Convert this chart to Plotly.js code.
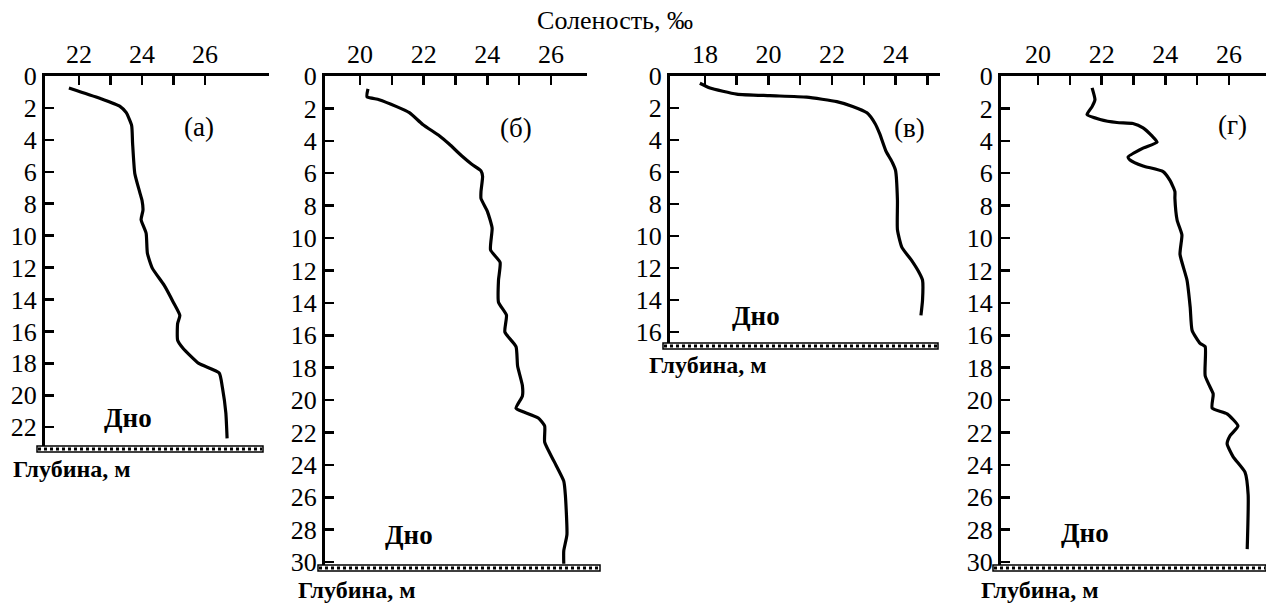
<!DOCTYPE html>
<html>
<head>
<meta charset="utf-8">
<script src="https://cdn.plot.ly/plotly-3.0.1.min.js"></script>
<style>
  html, body { margin: 0; padding: 0; background: #fff; }
  #chart { width: 1266px; height: 607px; }
</style>
</head>
<body>
<div id="chart"></div>
<script>
// ---- Data (salinity, ‰ ; depth, m) ----
const salA = [21.68, 22.66, 23.3, 23.5, 23.67, 23.7, 23.77, 23.93, 24.0, 24.03, 23.97, 24.13, 24.17, 24.33, 24.7, 25.0, 25.2, 25.13, 25.13, 25.3, 25.8, 26.45, 26.55, 26.66, 26.7];
const depthA = [0.75, 1.4, 1.9, 2.3, 3.1, 4.2, 6.1, 7.3, 7.8, 8.4, 9.0, 9.85, 11.1, 12.05, 13.1, 14.2, 15.0, 15.5, 16.55, 17.05, 18.0, 18.6, 19.5, 21.1, 22.7];

const salB = [20.25, 20.22, 20.6, 21.15, 21.55, 21.97, 22.5, 22.8, 23.2, 23.5, 23.8, 23.85, 23.8, 23.8, 24.0, 24.15, 24.1, 24.4, 24.35, 24.35, 24.6, 24.55, 24.9, 24.95, 25.1, 25.1, 24.9, 25.1, 25.6, 25.8, 25.8, 26.1, 26.4, 26.45, 26.5, 26.4, 26.4];
const depthB = [0.8, 1.28, 1.46, 1.89, 2.26, 2.99, 3.7, 4.2, 4.94, 5.43, 5.85, 6.2, 7.13, 7.56, 8.35, 9.39, 10.73, 11.5, 12.6, 13.96, 14.76, 15.8, 16.7, 17.9, 19.1, 19.75, 20.5, 20.7, 21.1, 21.6, 22.6, 23.8, 25.0, 25.85, 28.3, 29.3, 30.1];

const salV = [17.84, 18.16, 19.0, 20.04, 21.2, 22.15, 22.65, 23.1, 23.35, 23.5, 23.7, 23.9, 24.0, 24.06, 24.06, 24.2, 24.5, 24.75, 24.85, 24.85, 24.8];
const depthV = [0.45, 0.75, 1.13, 1.23, 1.32, 1.6, 1.9, 2.3, 2.95, 3.6, 4.7, 5.4, 5.9, 7.75, 9.6, 10.7, 11.5, 12.3, 12.75, 14.0, 14.95];

const salG = [21.70, 21.79, 21.70, 21.54, 21.95, 22.48, 22.98, 23.3, 23.58, 23.74, 23.30, 22.83, 22.89, 23.30, 23.93, 24.15, 24.3, 24.3, 24.37, 24.52, 24.46, 24.68, 24.78, 24.84, 25.09, 25.25, 25.25, 25.5, 25.5, 25.47, 25.94, 26.28, 26.03, 25.94, 26.13, 26.5, 26.6, 26.57];
const depthG = [0.73, 1.46, 1.89, 2.38, 2.68, 2.87, 2.93, 3.2, 3.7, 4.08, 4.45, 5.0, 5.18, 5.55, 5.9, 6.46, 7.13, 7.56, 8.9, 9.8, 11.0, 12.6, 14.27, 15.7, 16.5, 16.7, 18.5, 19.6, 19.75, 20.5, 20.85, 21.6, 22.2, 22.7, 23.5, 24.45, 25.85, 29.2];

// Tick values / labels
const ticksA = [22, 23, 24, 25, 26];
const ticksB = [20, 21, 22, 23, 24, 25, 26];
const ticksV = [18, 19, 20, 21, 22, 23, 24, 25];
const ticksG = [20, 21, 22, 23, 24, 25, 26];
const panelLabels = ['(a)', '(б)', '(в)', '(г)'];
const titleText = 'Соленость, ‰';
const depthLabel = 'Глубина, м';
const bottomLabel = 'Дно';

// ---- Layout helpers ----
const W = 1266, H = 607;
const px = v => v / W;
const py = v => 1 - v / H;
const FONT = 'Liberation Serif';

function lbl(t) { return t.map(v => (v % 2 === 0 ? String(v) : '')); }

function xAxis(range, tv, dom, anchor) {
  return {
    domain: dom, range: range, side: 'top', anchor: anchor,
    showline: true, linewidth: 3, linecolor: '#000', mirror: false,
    ticks: 'inside', ticklen: 9, tickwidth: 2.5, tickcolor: '#000',
    tickmode: 'array', tickvals: tv, ticktext: lbl(tv),
    tickfont: { family: FONT, size: 26, color: '#000' },
    showgrid: false, zeroline: false, fixedrange: true
  };
}
function yAxis(range, dom, anchor) {
  return {
    domain: dom, range: range, anchor: anchor,
    showline: true, linewidth: 3, linecolor: '#000',
    ticks: 'inside', ticklen: 9, tickwidth: 2.5, tickcolor: '#000',
    tickmode: 'linear', tick0: 0, dtick: 2,
    tickfont: { family: FONT, size: 26, color: '#000' },
    showgrid: false, zeroline: false, fixedrange: true
  };
}

const TOP = 76;
const panels = [
  { sal: salA, dep: depthA, xr: [20.92, 28.03], ticks: ticksA, x0: 45, x1: 269, bottom: 448, ymax: 23.3, xa: 'x', ya: 'y', band: [37, 263], glub: [72, 469], dno: [23.55, 21.4], lab: [25.8, 3.2] },
  { sal: salB, dep: depthB, xr: [18.9, 27.13], ticks: ticksB, x0: 325, x1: 587, bottom: 567, ymax: 30.3, xa: 'x2', ya: 'y2', band: [318, 600], glub: [357, 590], dno: [21.55, 28.3], lab: [24.9, 3.2] },
  { sal: salV, dep: depthV, xr: [16.9, 25.4], ticks: ticksV, x0: 670, x1: 940, bottom: 345, ymax: 16.8, xa: 'x3', ya: 'y3', band: [663, 938], glub: [708, 365], dno: [19.6, 15.0], lab: [24.45, 3.25] },
  { sal: salG, dep: depthG, xr: [18.84, 27.16], ticks: ticksG, x0: 1001, x1: 1266, bottom: 567, ymax: 30.3, xa: 'x4', ya: 'y4', band: [993, 1266], glub: [1040, 590], dno: [21.48, 28.2], lab: [26.1, 3.05] }
];

const traces = [];
const layout = {
  width: W, height: H,
  margin: { l: 0, r: 0, t: 0, b: 0 },
  paper_bgcolor: '#fff', plot_bgcolor: '#fff',
  showlegend: false,
  annotations: [], shapes: []
};

panels.forEach((p, i) => {
  const n = i === 0 ? '' : String(i + 1);
  traces.push({
    x: p.sal, y: p.dep, xaxis: p.xa, yaxis: p.ya,
    type: 'scatter', mode: 'lines',
    line: { color: '#000', width: 3.2, shape: 'spline', smoothing: 0.5 },
    hoverinfo: 'skip'
  });
  layout['xaxis' + n] = xAxis(p.xr, p.ticks, [px(p.x0), px(p.x1)], p.ya);
  layout['yaxis' + n] = yAxis([p.ymax, 0], [py(p.bottom), py(TOP)], p.xa);

  // bottom band (hatched)
  layout.shapes.push({
    type: 'rect', xref: 'paper', yref: 'paper',
    x0: px(p.band[0]), x1: px(p.band[1]),
    y0: py(p.bottom + 4), y1: py(p.bottom - 2),
    fillcolor: '#fff', line: { color: '#000', width: 1.5 }
  });
  layout.shapes.push({
    type: 'line', xref: 'paper', yref: 'paper',
    x0: px(p.band[0] + 1), x1: px(p.band[1] - 1),
    y0: py(p.bottom + 1), y1: py(p.bottom + 1),
    line: { color: '#000', width: 3, dash: '3px,3px' }
  });

  layout.annotations.push({
    xref: p.xa, yref: p.ya, x: p.lab[0], y: p.lab[1],
    text: panelLabels[i], showarrow: false,
    font: { family: FONT, size: 27, color: '#000' }
  });
  layout.annotations.push({
    xref: p.xa, yref: p.ya, x: p.dno[0], y: p.dno[1],
    text: '<b>' + bottomLabel + '</b>', showarrow: false,
    font: { family: FONT, size: 27, color: '#000' }
  });
  layout.annotations.push({
    xref: 'paper', yref: 'paper', x: px(p.glub[0]), y: py(p.glub[1]),
    text: '<b>' + depthLabel + '</b>', showarrow: false,
    xanchor: 'center', yanchor: 'middle',
    font: { family: FONT, size: 24, color: '#000' }
  });
});

layout.title = {
  text: titleText, x: px(615), y: py(20), xanchor: 'center', yanchor: 'middle',
  xref: 'paper', yref: 'paper',
  font: { family: FONT, size: 26, color: '#000' }
};

Plotly.newPlot('chart', traces, layout, { displayModeBar: false, staticPlot: true });
</script>
</body>
</html>
